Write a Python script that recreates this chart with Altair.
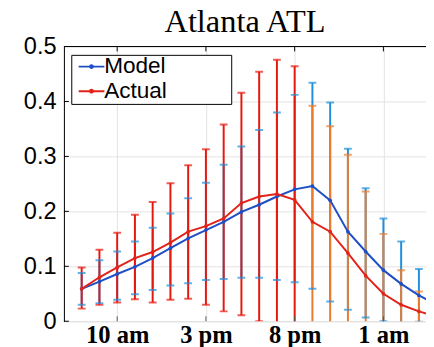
import altair as alt
import pandas as pd

# ---------------- data ----------------
hours = list(range(8, 29))
model_mean = [0.059, 0.072, 0.086, 0.099, 0.115, 0.133, 0.151, 0.166, 0.181, 0.199,
              0.212, 0.227, 0.240, 0.246, 0.220, 0.163, 0.127, 0.093, 0.068, 0.047, 0.030]
model_upper = [0.088, 0.111, 0.127, 0.145, 0.170, 0.196, 0.224, 0.252, 0.285, 0.318,
               0.348, 0.380, 0.412, 0.434, 0.398, 0.314, 0.242, 0.187, 0.145, 0.095, 0.060]
model_lower = [0.030, 0.033, 0.039, 0.049, 0.057, 0.065, 0.069, 0.075, 0.077, 0.079,
               0.079, 0.075, 0.071, 0.059, 0.036, 0.021, 0.007, 0.000, -0.009, -0.001, 0.000]
actual_mean = [0.059, 0.080, 0.098, 0.115, 0.126, 0.143, 0.163, 0.173, 0.187, 0.215,
               0.227, 0.2315, 0.221, 0.181, 0.163, 0.124, 0.083, 0.050, 0.030, 0.018, 0.008]
actual_upper = [0.098, 0.130, 0.161, 0.194, 0.217, 0.251, 0.284, 0.313, 0.358, 0.416,
                0.454, 0.476, 0.464, 0.392, 0.355, 0.303, 0.236, 0.159, 0.093, 0.054, 0.030]
actual_lower = [0.023, 0.030, 0.034, 0.040, 0.034, 0.039, 0.041, 0.030, 0.018, 0.011,
                0.000, -0.013, -0.022, -0.030, -0.029, -0.055, -0.070, -0.059, -0.033, -0.018, -0.010]

series_names = ["Model", "Actual"]
x_ticks = [10, 15, 20, 25]
x_tick_labels = ["10 am", "3 pm", "8 pm", "1 am"]
y_ticks = [0, 0.1, 0.2, 0.3, 0.4, 0.5]
title_text = "Atlanta ATL"

# ---------------- styling ----------------
W, H = 369, 280
MODEL_LINE = "#1f4fc4"
MODEL_BAR = "#1e8fdc"
ACTUAL_LINE = "#e2231a"
ACTUAL_BAR = "#e8170d"
ACTUAL_BAR_LATE = "#ec7a2c"
GRID = "#e2e2e2"
BOX_L, BOX_R, BOX_T, BOX_B = 8, 171, 9, 59   # legend frame, px inside the plot

n = len(hours)
df = pd.DataFrame({
    "hour": hours * 2,
    "series": [series_names[0]] * n + [series_names[1]] * n,
    "mean": model_mean + actual_mean,
    "lo": model_lower + actual_lower,
    "hi": model_upper + actual_upper,
})
model_df = df[df.series == "Model"]
actual_df = df[df.series == "Actual"]

label_expr = " : ".join(
    f"datum.value == {v} ? '{t}'" for v, t in zip(x_ticks, x_tick_labels)
) + " : ''"

xscale = alt.Scale(domain=[7, 27.4], nice=False, zero=False)
yscale = alt.Scale(domain=[0, 0.5], nice=False)

x_axis = alt.Axis(values=x_ticks, labelExpr=label_expr, title=None, domain=False,
                  ticks=False, grid=True, gridColor=GRID, labelFont="Liberation Serif",
                  labelFontSize=25, labelFontWeight="bold", labelColor="black",
                  labelPadding=2, labelFlush=False)
y_axis = alt.Axis(values=y_ticks, format="~g", title=None, domain=True, domainColor="black",
                  ticks=False, grid=True, gridColor=GRID, labelFont="Liberation Sans",
                  labelFontSize=24, labelColor="black", labelPadding=8)


def xe(field="hour"):
    return alt.X(f"{field}:Q", scale=xscale, axis=x_axis)


def ye(field):
    return alt.Y(f"{field}:Q", scale=yscale, axis=y_axis)


bar_color = alt.condition("datum.hour >= 21", alt.value(ACTUAL_BAR_LATE), alt.value(ACTUAL_BAR))

model_rules = alt.Chart(model_df).mark_rule(strokeWidth=2, color=MODEL_BAR, clip=True).encode(
    x=xe(), y=ye("lo"), y2="hi:Q")
actual_rules = alt.Chart(actual_df).mark_rule(strokeWidth=2, clip=True).encode(
    x=xe(), y=ye("lo"), y2="hi:Q", color=bar_color)


def caps(data, field, color):
    return alt.Chart(data).mark_tick(orient="horizontal", size=8, thickness=2, clip=True).encode(
        x=xe(), y=ye(field), color=color)


actual_caps = caps(actual_df, "hi", bar_color) + caps(actual_df, "lo", bar_color)
model_caps = caps(model_df, "hi", alt.value(MODEL_BAR)) + caps(model_df, "lo", alt.value(MODEL_BAR))

# legend frame: white fill plus four border rules
one = pd.DataFrame({"k": [0]})
box_fill = alt.Chart(one).mark_rect(color="white", opacity=1).encode(
    x=alt.value(BOX_L), x2=alt.value(BOX_R), y=alt.value(BOX_T), y2=alt.value(BOX_B))
box_top = alt.Chart(one).mark_rule(color="black", strokeWidth=1).encode(
    x=alt.value(BOX_L), x2=alt.value(BOX_R), y=alt.value(BOX_T))
box_bot = alt.Chart(one).mark_rule(color="black", strokeWidth=1).encode(
    x=alt.value(BOX_L), x2=alt.value(BOX_R), y=alt.value(BOX_B))
box_left = alt.Chart(one).mark_rule(color="black", strokeWidth=1).encode(
    x=alt.value(BOX_L), y=alt.value(BOX_T), y2=alt.value(BOX_B))
box_right = alt.Chart(one).mark_rule(color="black", strokeWidth=1).encode(
    x=alt.value(BOX_R), y=alt.value(BOX_T), y2=alt.value(BOX_B))

legend_path = "M-1,0H2.5M0.55,0A0.2,0.2 0 1,0 0.95,0A0.2,0.2 0 1,0 0.55,0"
lines = alt.Chart(df).mark_line(strokeWidth=2, clip=True,
                                point=alt.OverlayMarkDef(filled=True, size=14)).encode(
    x=xe(), y=ye("mean"),
    color=alt.Color("series:N",
                    scale=alt.Scale(domain=series_names, range=[MODEL_LINE, ACTUAL_LINE]),
                    legend=alt.Legend(title=None, orient="none", legendX=8, legendY=6,
                                      padding=3, strokeColor="transparent",
                                      symbolType=legend_path, symbolSize=225,
                                      symbolStrokeWidth=2, labelFont="Liberation Sans",
                                      labelFontSize=23, labelOffset=7, rowPadding=1,
                                      labelColor="black")),
    order="hour:Q")

# frame / inward ticks
tick_df = pd.DataFrame({"hour": x_ticks})
ytick_df = pd.DataFrame({"v": y_ticks})
top_line = alt.Chart(one).mark_rule(color="black", strokeWidth=1).encode(
    x=alt.value(0), x2=alt.value(W), y=alt.value(0))
top_ticks = alt.Chart(tick_df).mark_rule(color="black", strokeWidth=1).encode(
    x=xe(), y=alt.value(0), y2=alt.value(5))
bottom_ticks = alt.Chart(tick_df).mark_rule(color="#555555", strokeWidth=1).encode(
    x=xe(), y=alt.value(H - 5), y2=alt.value(H))
left_ticks = alt.Chart(ytick_df).mark_rule(color="black", strokeWidth=1).encode(
    y=ye("v"), x=alt.value(0), x2=alt.value(5))

chart = alt.layer(
    model_rules, actual_rules, actual_caps, model_caps,
    box_fill, box_top, box_bot, box_left, box_right, lines,
    top_line, top_ticks, bottom_ticks, left_ticks,
).properties(
    width=W, height=H,
    title=alt.TitleParams(title_text, font="Liberation Serif", fontSize=33,
                          fontWeight="normal", color="black", anchor="middle",
                          frame="group", offset=11, dy=15),
    autosize=alt.AutoSizeParams(type="none"),
    padding={"left": 57, "top": 36, "right": 0, "bottom": 23},
).configure_view(stroke=None).configure(background="white")

chart.save("out.html", embed_options={"renderer": "svg", "actions": False})
